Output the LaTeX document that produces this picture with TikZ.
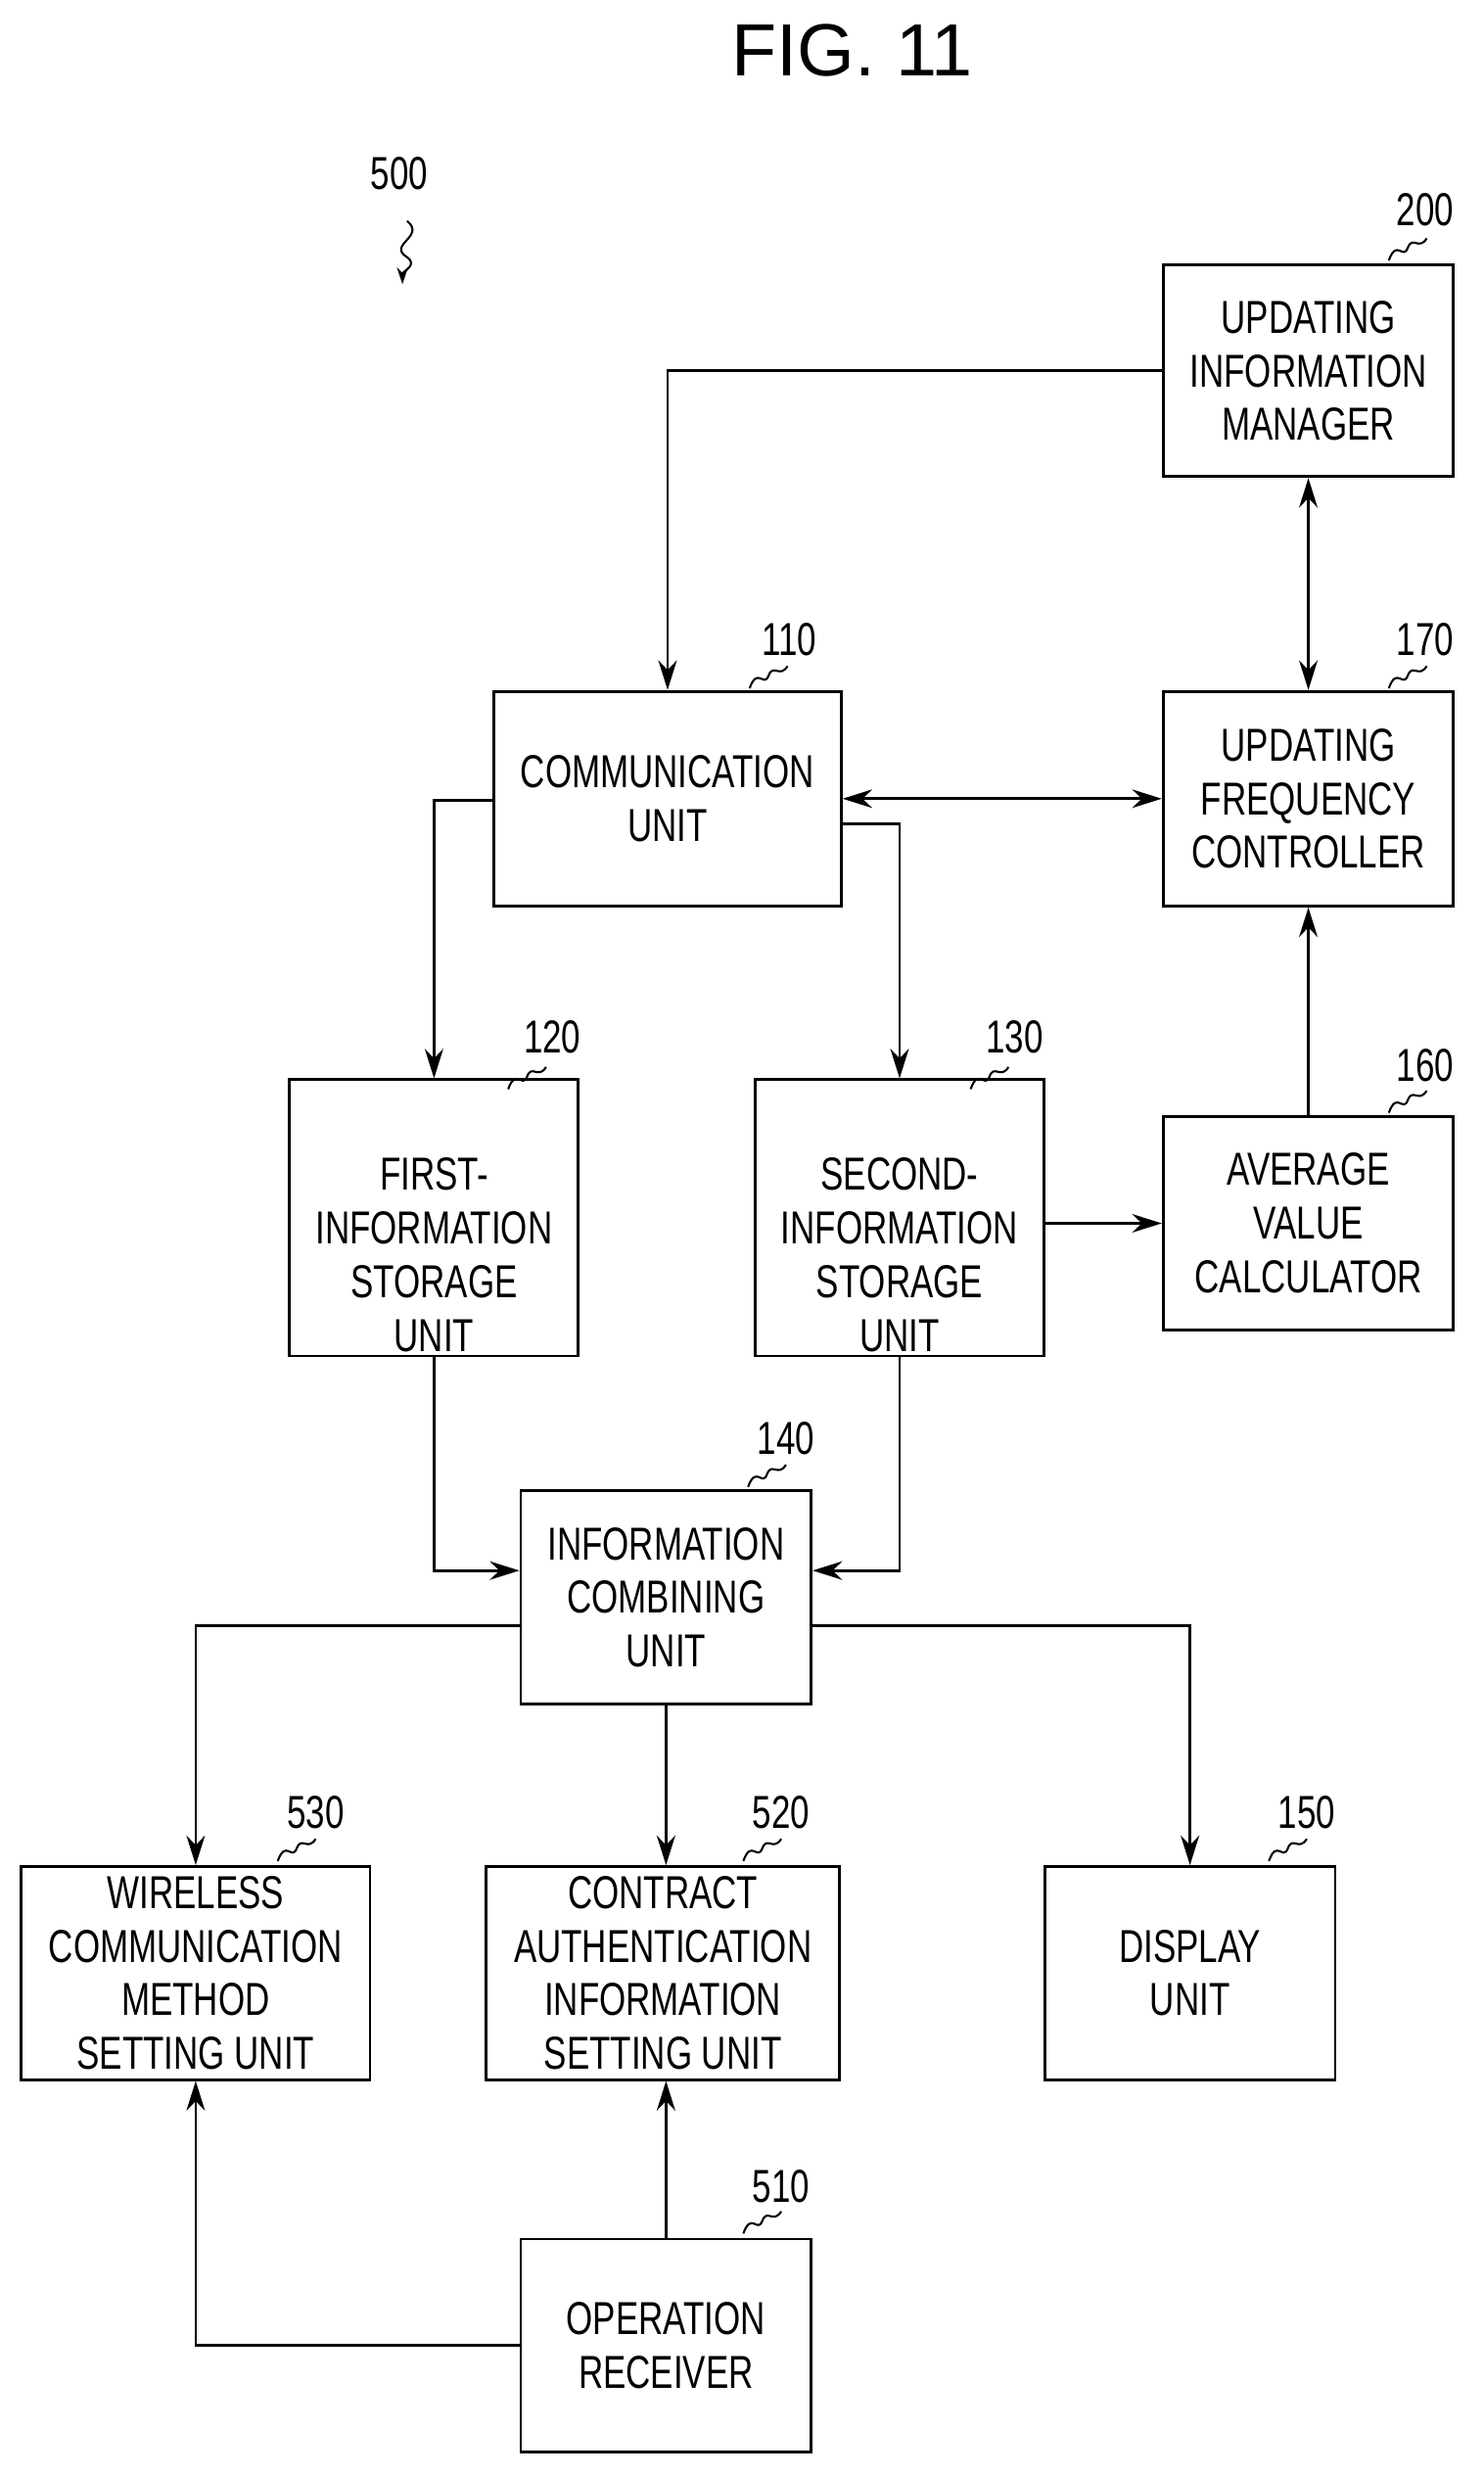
\documentclass[tikz,border=0pt]{standalone}
\usepackage{fontspec}
\setmainfont{Liberation Sans}[FakeStretch=0.74]
\newfontfamily\titlefont{Liberation Sans}
\usetikzlibrary{shapes.geometric,arrows.meta,calc}
\begin{document}
\begin{tikzpicture}[x=0.03cm,y=-0.03cm,
  every node/.style={font=\fontsize{25}{29}\selectfont, align=center},
  box/.style={draw, line width=1.5pt, inner sep=0pt},
  cyl/.style={draw, line width=1.5pt, cylinder, shape border rotate=90, aspect=0.18, inner sep=0pt, minimum width=183*0.03cm, minimum height=175*0.03cm},
  ln/.style={line width=1.5pt},
  ar/.style={ln, -{Stealth[length=16pt,width=10pt]}},
  dar/.style={ln, {Stealth[length=16pt,width=10pt]}-{Stealth[length=16pt,width=10pt]}},
  lbl/.style={font=\fontsize{25}{29}\selectfont},
  sq/.style={line width=1.1pt}]
\useasboundingbox (0,0) rectangle (940,1568);
\node[font=\titlefont\fontsize{40}{44}\selectfont] (title) at (540,32) {FIG. 11};

\node[box, minimum width=184*0.03cm, minimum height=134*0.03cm] (n200) at (829,235) {UPDATING\\INFORMATION\\MANAGER};
\node[box, minimum width=184*0.03cm, minimum height=136*0.03cm] (n170) at (829,506) {UPDATING\\FREQUENCY\\CONTROLLER};
\node[box, minimum width=220*0.03cm, minimum height=136*0.03cm] (n110) at (423,506) {COMMUNICATION\\UNIT};
\node[cyl] (n120) at (275,772) {};
\node at (275,795) {FIRST-\\INFORMATION\\STORAGE\\UNIT};
\node[cyl] (n130) at (570,772) {};
\node at (570,795) {SECOND-\\INFORMATION\\STORAGE\\UNIT};
\node[box, minimum width=184*0.03cm, minimum height=135*0.03cm] (n160) at (829,775) {AVERAGE\\VALUE\\CALCULATOR};
\node[box, minimum width=184*0.03cm, minimum height=135*0.03cm] (n140) at (422,1012) {INFORMATION\\COMBINING\\UNIT};
\node[box, minimum width=221*0.03cm, minimum height=135*0.03cm] (n530) at (124,1250) {WIRELESS\\COMMUNICATION\\METHOD\\SETTING UNIT};
\node[box, minimum width=224*0.03cm, minimum height=135*0.03cm] (n520) at (420,1250) {CONTRACT\\AUTHENTICATION\\INFORMATION\\SETTING UNIT};
\node[box, minimum width=184*0.03cm, minimum height=135*0.03cm] (n150) at (754,1250) {DISPLAY\\UNIT};
\node[box, minimum width=184*0.03cm, minimum height=135*0.03cm] (n510) at (422,1486) {OPERATION\\RECEIVER};

% labels with squiggles
\foreach \n/\t/\lx/\ly/\cx/\cy in {l200/200/903/133/880/165, l170/170/903/405/880/436, l110/110/500/405/475/436, l120/120/350/657/322/690, l130/130/643/657/615/690, l160/160/903/675/880/705, l140/140/498/911/474/942, l530/530/200/1148/176/1179, l520/520/495/1148/471/1179, l150/150/828/1148/804/1179, l510/510/495/1385/471/1415}{
  \node[lbl] (\n) at (\lx,\ly) {\t};
  \draw[sq] (\cx,\cy) .. controls ($(\cx,\cy)+(5,-14)$) and ($(\cx,\cy)+(9,0)$) .. ($(\cx,\cy)+(12,-8)$) .. controls ($(\cx,\cy)+(15,-16)$) and ($(\cx,\cy)+(19,-6)$) .. ($(\cx,\cy)+(24,-14)$);
}
\node[lbl] (l500) at (253,110) {500};
\coordinate (s0) at (258,140);
\coordinate (s1) at (255,180);
\draw[sq, -{Stealth[length=9pt,width=6pt]}] (s0) .. controls (270,150) and (245,155) .. (258,163) .. controls (265,168) and (255,172) .. (s1);

% connectors
\draw[ar] (n200.west) -| (n110.north);
\draw[dar] (n200.south) -- (n170.north);
\draw[dar] (n110.east) -- (n170.west);
\draw[ar] ($(n110.west)+(0,1)$) -| (n120.north);
\draw[ar] ($(n110.east)+(0,16)$) -| (n130.north);
\draw[ar] (n130.east |- n160.west) -- (n160.west);
\draw[ar] (n160.north) -- (n170.south);
\draw[ar] (n120.south) |- ($(n140.west)+(0,-17)$);
\draw[ar] (n130.south) |- ($(n140.east)+(0,-17)$);
\draw[ar] ($(n140.west)+(0,18)$) -| (n530.north);
\draw[ar] (n140.south) -- (n520.north -| n140.south);
\draw[ar] ($(n140.east)+(0,18)$) -| (n150.north);
\draw[ar] (n510.west) -| (n530.south);
\draw[ar] (n510.north) -- (n520.south -| n510.north);
\end{tikzpicture}
\end{document}
